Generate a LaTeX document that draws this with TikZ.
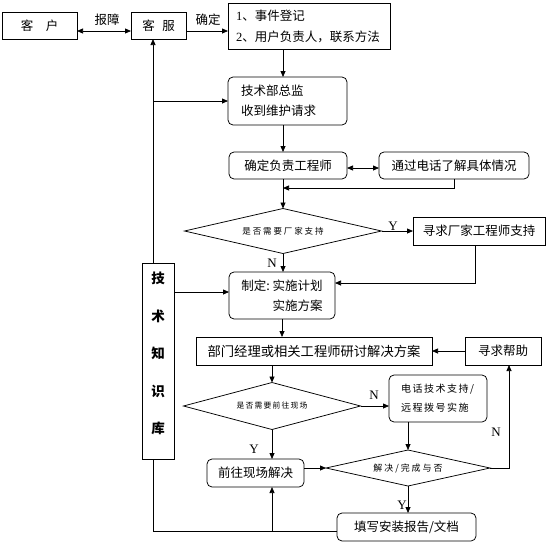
\documentclass[tikz,border=0pt]{standalone}
\usepackage{fontspec}
\setmainfont{Noto Sans CJK SC}
\newfontfamily\cjksp[LetterSpace=22]{Noto Sans CJK SC}
\newfontfamily\cjkspb[LetterSpace=15]{Noto Sans CJK SC}
\newfontfamily\lat{Liberation Serif}
\usetikzlibrary{arrows.meta,shapes.geometric}
\newcommand\mainsz{\fontsize{12.5}{15}\selectfont}
\begin{document}
\begin{tikzpicture}[x=1pt,y=-1pt,line width=0.75pt,
  every node/.style={inner sep=0pt, outer sep=0pt, font=\mainsz},
  box/.style={draw, rectangle},
  rbox/.style={draw, rectangle, rounded corners=5pt},
  dec/.style={draw, diamond, inner sep=0pt},
  lbl/.style={font=\lat\fontsize{13}{13}\selectfont},
  arr/.style={-{Triangle[length=6pt,width=5pt]}},
  darr/.style={{Triangle[length=6pt,width=5pt]}-{Triangle[length=6pt,width=5pt]}}]
\useasboundingbox (0,0) rectangle (556,544);
\fill[white] (0,0) rectangle (556,544);

\coordinate (xa) at (283,0);
\coordinate (xb) at (272,0);
\coordinate (xc) at (408,0);
\coordinate (xd) at (454,0);
\coordinate (xe) at (475,0);
\coordinate (xf) at (509,0);
\coordinate (xk) at (153,0);
\coordinate (j1) at (283,188);

% nodes
\node[box, minimum width=75pt, minimum height=27pt] (kehu) at (39.5,25.5) {客\hspace{1em}户};
\node[box, minimum width=55pt, minimum height=27pt] (kefu) at (158.5,25.5) {客\hspace{0.6em}服};
\node[box, minimum width=162pt, minimum height=46pt, text width=146pt, inner xsep=8pt, align=left,
      font=\fontsize{12.5}{21}\selectfont] (event) at (309,26)
      {{\lat 1}、事件登记\\{\lat 2}、用户负责人，联系方法};
\node[rbox, minimum height=48pt, text width=93pt, inner xsep=13pt, align=left,
      font=\fontsize{12.5}{20}\selectfont] (zongjian) at (287.5,101) {技术部总监\\收到维护请求};
\node[rbox, minimum width=118pt, minimum height=27pt] (queding) at (288,165.5) {确定负责工程师};
\node[rbox, minimum width=150pt, minimum height=27pt] (dianhua) at (454,165.5) {通过电话了解具体情况};
\node[dec, minimum width=197pt, minimum height=45pt, shape aspect=4.4,
      font=\cjksp\fontsize{8.5}{10}\selectfont] (dia1) at (283,231) {是否需要厂家支持};
\node[box, minimum width=132pt, minimum height=28pt] (changjia) at (479,231) {寻求厂家工程师支持};
\node[rbox, minimum width=106pt, minimum height=47pt, align=right,
      font=\fontsize{12.5}{20}\selectfont] (zhiding) at (282,295.5) {制定:\ 实施计划\\实施方案};
\node[box, minimum width=32pt, minimum height=196pt, align=center,
      font=\bfseries\fontsize{13.5}{37.5}\selectfont] (zhishi) at (158,361)
      {技\\术\\知\\识\\库\rule[-16pt]{0pt}{16pt}};
\node[box, minimum width=236pt, minimum height=28pt, font=\fontsize{13.3}{15}\selectfont] (bumen) at (314,351) {部门经理或相关工程师研讨解决方案};
\node[box, minimum width=76pt, minimum height=28pt] (bangzhu) at (503,351) {寻求帮助};
\node[dec, minimum width=177pt, minimum height=47pt, shape aspect=3.8,
      font=\cjkspb\fontsize{7.8}{10}\selectfont] (dia2) at (272,406) {是否需要前往现场};
\node[rbox, minimum height=47pt, text width=74pt, inner xsep=12pt, align=left,
      font=\cjkspb\fontsize{10}{19}\selectfont] (yuancheng) at (438,398.5) {电话技术支持/\\远程拨号实施};
\node[dec, minimum width=164pt, minimum height=36pt, shape aspect=4.5,
      font=\cjksp\fontsize{9}{10}\selectfont] (dia3) at (408,468) {解决/完成与否};
\node[rbox, minimum width=97pt, minimum height=28pt] (qianwang) at (255.5,473) {前往现场解决};
\node[rbox, minimum width=139pt, minimum height=28pt] (tianxie) at (406.5,527) {填写安装报告/文档};

% labels
\node (l1) at (107,20) {报障};
\node (l2) at (208,20) {确定};
\node[lbl] (ly1) at (393,226) {Y};
\node[lbl] (ln1) at (272,263) {N};
\node[lbl] (ln2) at (374,395) {N};
\node[lbl] (ln3) at (496,432) {N};
\node[lbl] (ly2) at (254,449) {Y};
\node[lbl] (ly3) at (402,505) {Y};

% connectors
\draw[darr] ([yshift=-5.5pt]kehu.east) -- ([yshift=-5.5pt]kefu.west);
\draw[arr] ([yshift=-5.5pt]kefu.east) -- ([yshift=-5.5pt]kefu.east -| event.west);
\draw[arr] (event.south -| xa) -- (zongjian.north -| xa);
\draw[arr] (zhishi.north -| xk) -- (kefu.south -| xk);
\draw[arr] (zongjian.west -| xk) -- (zongjian.west);
\draw[arr] (zongjian.south -| xa) -- (queding.north -| xa);
\draw[darr] ([yshift=-2.5pt]queding.east) -- ([yshift=-2.5pt]queding.east -| dianhua.west);
\draw[arr] (dianhua.south -| xd) |- (j1);
\draw[arr] (queding.south -| xa) -- (dia1.north);
\draw[arr] (dia1.east) -- (changjia.west);
\draw[arr] (dia1.south) -- (zhiding.north -| dia1.south);
\draw[arr] (changjia.south -| xe) |- ([yshift=12.5pt]zhiding.east);
\draw[arr] ([yshift=3.5pt]zhiding.west -| zhishi.east) -- ([yshift=3.5pt]zhiding.west);
\draw[arr] (zhiding.south) -- (bumen.north -| zhiding.south);
\draw[arr] (bangzhu.west) -- (bumen.east);
\draw[arr] (bumen.south -| xb) -- (dia2.north);
\draw[arr] (dia2.east) -- (dia2.east -| yuancheng.west);
\draw[arr] (yuancheng.south -| xc) -- (dia3.north);
\draw[arr] (dia3.east) -| (bangzhu.south -| xf);
\draw[arr] (dia2.south) -- (qianwang.north -| dia2.south);
\draw[arr] (qianwang.east |- dia3.west) -- (dia3.west);
\draw[arr] (dia3.south) -- (tianxie.north -| dia3.south);
\draw ([yshift=-4pt]tianxie.west) -| (zhishi.south -| xk);
\draw[arr] ([yshift=-4pt]tianxie.west -| xb) -- (qianwang.south -| xb);
\end{tikzpicture}
\end{document}
